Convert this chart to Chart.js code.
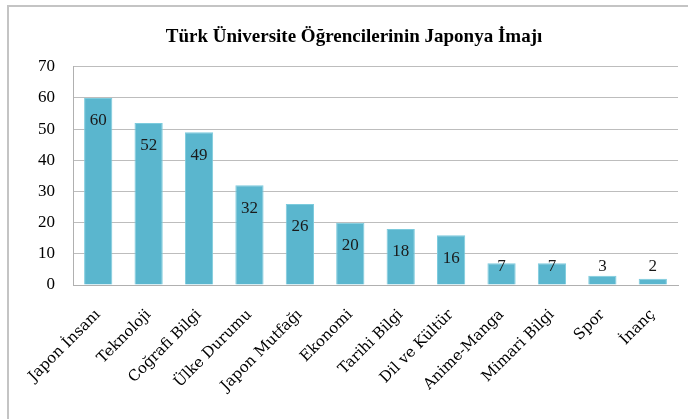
<!DOCTYPE html>
<html><head><meta charset="utf-8">
<script src="https://cdn.jsdelivr.net/npm/chart.js@4.4.0/dist/chart.umd.min.js"></script>
<style>
html,body{margin:0;padding:0;background:#fff;overflow:hidden;width:688px;height:419px;}
#frame{position:absolute;left:7px;top:5px;width:900px;height:700px;border:2px solid #c4c4c4;box-sizing:border-box;}
#wrap{position:absolute;left:0;top:0;width:708px;height:419px;}
</style></head>
<body>
<div id="frame"></div>
<div id="wrap"><canvas id="c" width="708" height="419"></canvas></div>
<script>
const titleText = "Türk Üniversite Öğrencilerinin Japonya İmajı";
const categories = ["Japon İnsanı","Teknoloji","Coğrafi Bilgi","Ülke Durumu","Japon Mutfağı","Ekonomi","Tarihi Bilgi","Dil ve Kültür","Anime-Manga","Mimari Bilgi","Spor","İnanç"];
const values = [60,52,49,32,26,20,18,16,7,7,3,2];
const yMin = 0, yMax = 70, yStep = 10;

const labelPlugin = {
  id: 'barLabels',
  afterDatasetsDraw(chart) {
    const ctx = chart.ctx;
    const meta = chart.getDatasetMeta(0);
    const base = chart.scales.y.getPixelForValue(0);
    ctx.save();
    ctx.font = '17px "Liberation Serif", serif';
    ctx.fillStyle = '#1a1a1a';
    ctx.textAlign = 'center';
    ctx.textBaseline = 'middle';
    meta.data.forEach((bar, i) => {
      const cy = Math.min(bar.y + 23, base - 18);
      ctx.fillText(String(values[i]), bar.x, cy);
    });
    ctx.restore();
  }
};

new Chart(document.getElementById('c'), {
  type: 'bar',
  data: {
    labels: categories,
    datasets: [{
      data: values,
      backgroundColor: '#5ab6ce',
      borderColor: '#7ccbdd',
      borderWidth: 1,
      barPercentage: 0.56,
      categoryPercentage: 1.0
    }]
  },
  options: {
    responsive: false,
    animation: false,
    layout: { padding: 0 },
    plugins: {
      legend: { display: false },
      tooltip: { enabled: false },
      title: {
        display: true,
        text: titleText,
        color: '#000',
        font: { family: '"Liberation Serif", serif', size: 19, weight: 'bold' },
        padding: { top: 26, bottom: 18 }
      }
    },
    scales: {
      x: {
        grid: { display: false, drawTicks: false },
        border: { display: true, color: '#b0b0b0', width: 1 },
        ticks: {
          color: '#000',
          font: { family: '"DejaVu Serif", serif', size: 15 },
          minRotation: 45, maxRotation: 45,
          padding: 21,
          autoSkip: false
        },
        afterFit(s) { s.height = 134; }
      },
      y: {
        min: yMin, max: yMax,
        grid: { color: '#bdbdbd', lineWidth: 1, drawTicks: false },
        border: { display: true, color: '#b0b0b0', width: 1 },
        ticks: {
          stepSize: yStep,
          color: '#000',
          font: { family: '"Liberation Serif", serif', size: 17 },
          padding: 18
        },
        afterFit(s) { s.width = 73; }
      },
      ySpacer: {
        position: 'right',
        min: yMin, max: yMax,
        grid: { display: false, drawTicks: false },
        border: { display: false },
        ticks: { display: false },
        afterFit(s) { s.width = 30; }
      }
    }
  },
  plugins: [labelPlugin]
});
</script>
</body></html>
